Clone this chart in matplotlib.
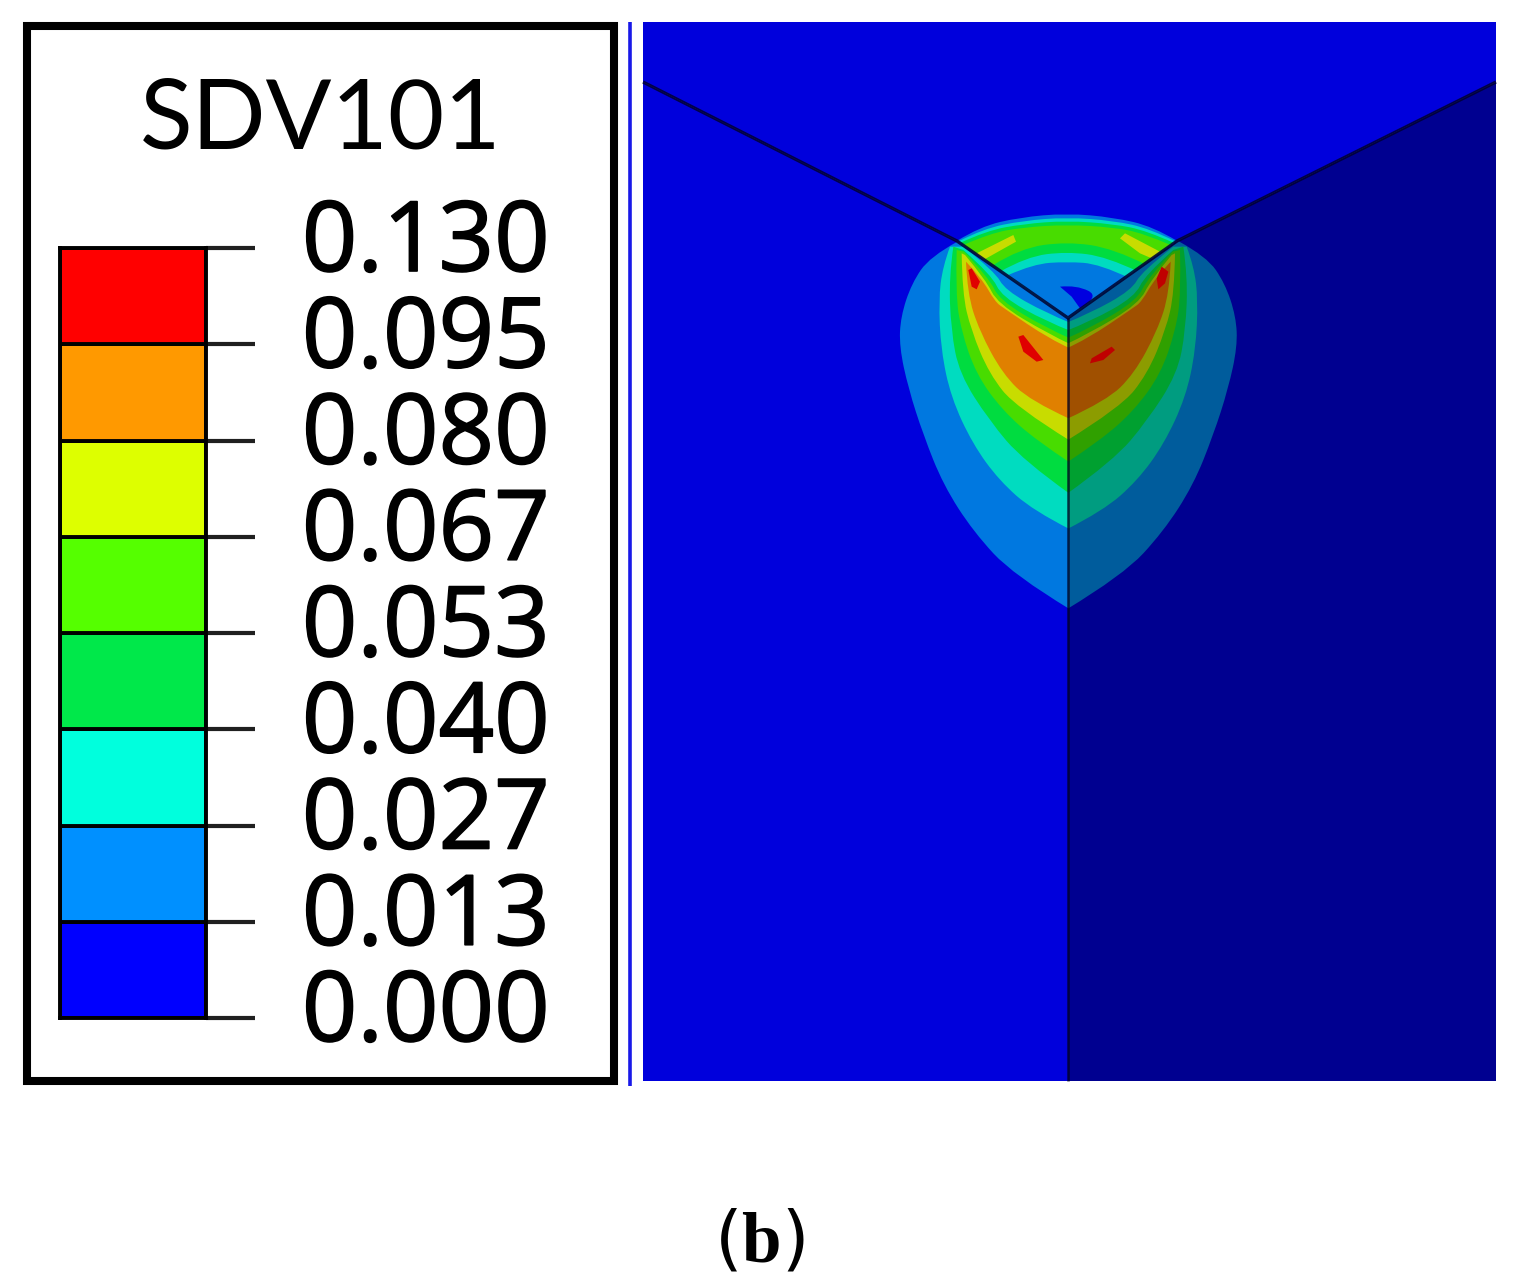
import matplotlib
matplotlib.use('Agg')
import matplotlib.pyplot as plt
import matplotlib.patheffects as pe
from matplotlib.patches import PathPatch, Polygon, Rectangle
from matplotlib.path import Path
from matplotlib.transforms import ScaledTranslation

plt.rcParams['mathtext.fontset'] = 'custom'
plt.rcParams['mathtext.bf'] = 'Liberation Serif:bold'
plt.rcParams['mathtext.rm'] = 'Liberation Serif'

title = 'SDV101'
levels = ['0.000', '0.013', '0.027', '0.040', '0.053', '0.067', '0.080', '0.095', '0.130']
bar_colors = ['#0000ff', '#0090ff', '#00ffdd', '#00e84a', '#55ff00', '#ddff00', '#ff9900', '#ff0000']
left_colors = ['#0078e0', '#00dcc0', '#00dc40', '#48dc00', '#c8dc00', '#e08000']
right_colors = ['#005c9c', '#009c80', '#00a030', '#30a000', '#8c9c00', '#a05000']

# contour outlines, left face, corner to centre line
outer_lines = [
    [(232, 125), (150, 170), (95, 250), (62, 350), (58, 440), (85, 565), (130, 705), (190, 855), (280, 995), (400, 1125), (570, 1228)],
    [(210, 140), (188, 200), (176, 300), (183, 450), (213, 592), (278, 732), (358, 842), (460, 932), (570, 988)],
    [(220, 140), (207, 230), (213, 390), (238, 521), (328, 662), (430, 782), (570, 882)],
    [(230, 150), (227, 280), (243, 390), (288, 522), (368, 632), (470, 722), (570, 788)],
    [(245, 160), (247, 280), (273, 390), (328, 522), (408, 622), (570, 722)],
    [(258, 185), (262, 280), (298, 392), (368, 522), (450, 602), (570, 657)],
]
inner_lines = [
    [(232, 122), (570, 355)],
    [(250, 140), (345, 215), (375, 270), (500, 340), (570, 368)],
    [(250, 150), (335, 225), (365, 290), (500, 365), (570, 392)],
    [(252, 155), (328, 235), (358, 300), (500, 385), (570, 415)],
    [(255, 165), (318, 240), (352, 310), (505, 402), (570, 432)],
    [(258, 185), (305, 235), (345, 305), (372, 325), (510, 418), (570, 445)],
]
red_spots = [
    [(265, 210), (275, 205), (300, 245), (290, 268), (275, 260)],
    [(415, 410), (430, 405), (490, 480), (470, 485), (430, 455)],
    [(830, 235), (845, 200), (865, 215), (855, 250), (835, 268)],
    [(630, 490), (635, 475), (695, 440), (705, 450), (670, 480)],
]
# upper face, painted in this order
top_shapes = [
    ('#0078e0', [(232, 122), (300, 80), (420, 52), (560, 40), (700, 52), (820, 80), (890, 122), (565, 355)]),
    ('#00dcc0', [(236, 124), (310, 86), (430, 62), (560, 52), (700, 62), (810, 86), (886, 124), (565, 355)]),
    ('#00dc40', [(242, 128), (320, 92), (430, 72), (560, 62), (700, 72), (800, 92), (880, 128), (565, 355)]),
    ('#48dc00', [(250, 135), (330, 100), (430, 82), (560, 74), (700, 82), (790, 100), (872, 135), (565, 355)]),
    ('#00dc40', [(340, 195), (420, 145), (560, 125), (700, 145), (800, 195), (565, 355)]),
    ('#00dcc0', [(360, 215), (440, 170), (560, 155), (680, 170), (775, 215), (565, 355)]),
    ('#0078e0', [(385, 225), (460, 192), (560, 185), (660, 192), (750, 235), (565, 355)]),
    ('#0000e0', [(540, 260), (590, 255), (660, 290), (600, 325), (575, 290)]),
    ('#c8dc00', [(290, 160), (400, 105), (408, 125), (310, 180)]),
    ('#c8dc00', [(720, 115), (735, 100), (840, 155), (815, 175), (780, 160)]),
]


def zoomed(points):
    return [(880 + x / 3, 200 + y / 3) for x, y in points]


def mirrored(points):
    return [(1130 - x, y) for x, y in points]


def rounded(lines):
    # each line turned into quadratic curves, joined by straight pieces
    verts, codes = [], []
    for line in lines:
        pts = zoomed(line)
        codes.append(Path.LINETO if verts else Path.MOVETO)
        verts.append(pts[0])
        for a, b in zip(pts[1:-1], pts[2:]):
            end = b if b == pts[-1] else ((a[0] + b[0]) / 2, (a[1] + b[1]) / 2)
            verts += [a, end]
            codes += [Path.CURVE3, Path.CURVE3]
        if len(pts) == 2:
            verts.append(pts[1])
            codes.append(Path.LINETO)
    verts.append(verts[0])
    codes.append(Path.CLOSEPOLY)
    return Path(verts, codes)


fig = plt.figure(figsize=(15.22, 12.88), dpi=100)
ax = fig.add_axes([0, 0, 1, 1])
ax.set_xlim(0, 1522)
ax.set_ylim(1288, 0)
ax.axis('off')

# legend frame and the thin stray line next to it
ax.add_patch(Rectangle((27, 26), 587, 1055, fc='white', ec='black', lw=5.8, joinstyle='miter'))
ax.plot([629.5, 629.5], [22, 1086], color='#1818e8', lw=2.6, solid_capstyle='butt')

# faces of the model
left_face = [(643, 82), (957, 241), (1068, 318), (1068, 1081), (643, 1081)]
right_face = [(1496, 82), (1177, 241), (1068, 318), (1068, 1081), (1496, 1081)]
top_face = [(643, 22), (1496, 22), (1496, 82), (1177, 241), (1068, 318), (957, 241), (643, 82)]
left_patch = Polygon(left_face, fc='#0000dc', ec='none', zorder=1)
right_patch = Polygon(right_face, fc='#000090', ec='none', zorder=1)
top_patch = Polygon(top_face, fc='#0000dc', ec='none', zorder=1)
for p in (left_patch, right_patch, top_patch):
    ax.add_patch(p)

for i in range(len(outer_lines)):
    pl = ax.add_patch(PathPatch(rounded([outer_lines[i], inner_lines[i][::-1]]), fc=left_colors[i], ec='none', zorder=2))
    pl.set_clip_path(left_patch)
    pr = ax.add_patch(PathPatch(rounded([mirrored(outer_lines[i]), mirrored(inner_lines[i])[::-1]]), fc=right_colors[i], ec='none', zorder=2))
    pr.set_clip_path(right_patch)

for spot, col in zip(red_spots, ['#e00000', '#e00000', '#c00000', '#c00000']):
    ax.add_patch(Polygon(zoomed(spot), fc=col, ec='none', zorder=3))

for col, shape in top_shapes:
    if col == '#c8dc00':
        p = ax.add_patch(Polygon(zoomed(shape), fc=col, ec='none', zorder=2))
    else:
        p = ax.add_patch(PathPatch(rounded([shape[:-1], shape[-1:] + shape[:1]]), fc=col, ec='none', zorder=2))
    p.set_clip_path(top_patch)

# edges between the faces
edge_x = [643, 957, 1068, 1177, 1496]
edge_y = [82, 241, 318, 241, 82]
ax.plot(edge_x, edge_y, color='#000030', lw=2.4, alpha=0.85, zorder=4, solid_joinstyle='miter', solid_capstyle='butt')
ax.plot([1068, 1068], [318, 1081], color='#000020', lw=1.9, alpha=0.7, zorder=4, solid_capstyle='butt')

ax.text(321, 121, title, family='Lato', fontsize=70, ha='center', va='center', color='black')
ax.text(759, 1242, r'($\mathbf{b}$)', fontsize=51, ha='center', va='center', color='black')

# colour bar, one band between two neighbouring levels
cax = fig.add_axes([60 / 1522, 1 - 1018 / 1288, 146 / 1522, (1018 - 248) / 1288])
for i, col in enumerate(bar_colors):
    cax.bar(0, 1, bottom=i, width=1, color=col, edgecolor='black', linewidth=2.8)
cax.set_xlim(-0.5, 0.5)
cax.set_ylim(0, 8)
cax.set_xticks([])
cax.yaxis.tick_right()
cax.set_yticks(range(len(levels)), levels, family='Open Sans', fontsize=70)
cax.tick_params(axis='y', length=35, width=3, pad=34, color='#202020')
for spine in cax.spines.values():
    spine.set_linewidth(2.8)
shift = ScaledTranslation(0, 14 / 100, fig.dpi_scale_trans)
for label in cax.get_yticklabels():
    label.set_transform(label.get_transform() + shift)
    label.set_path_effects([pe.withStroke(linewidth=1.2, foreground='black')])

fig.savefig('out.png', dpi=100)
